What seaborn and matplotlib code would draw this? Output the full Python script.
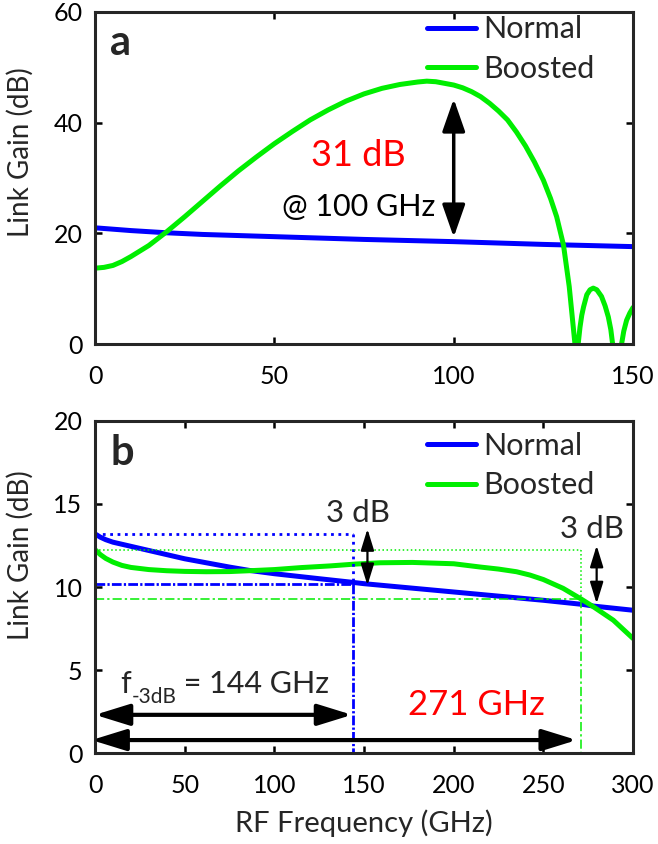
import numpy as np
import pandas as pd
import matplotlib
matplotlib.use("Agg")
import matplotlib.pyplot as plt
import seaborn as sns

sns.set_style("ticks")
plt.rcParams['font.family'] = ['Lato', 'DejaVu Sans']

BLUE = '#0000ff'
GREEN = '#00ee00'
RED = '#ff0000'

# ---------------- data: panel a ----------------
fa_normal = [0, 10, 20, 30, 40, 50, 60, 75, 100, 125, 150]
ga_normal = [21.0, 20.5, 20.1, 19.8, 19.6, 19.4, 19.2, 18.9, 18.5, 18.0, 17.6]

fa_boost = [0, 2.5, 5, 7.5, 10, 15, 20, 25, 30, 35, 40, 45, 50, 55, 60, 65, 70, 75,
            80, 85, 90, 92.5, 95, 100, 102.5, 105, 107.5, 110, 112.5, 115, 117.5,
            120, 122.5, 125, 127, 128.7, 130.6, 132.2, 133.8,
            134.2, 134.7, 135.2, 135.7, 136.2, 137.1, 138.0, 138.9, 139.9, 141.2,
            142.2, 143.1, 143.8, 144.3,
            145.5, 146.8, 147.4, 148.2, 149.1, 150]
ga_boost = [13.7, 13.85, 14.2, 14.9, 15.8, 17.8, 20.3, 23.0, 25.8, 28.6, 31.3, 33.8,
            36.2, 38.4, 40.5, 42.3, 43.9, 45.2, 46.2, 46.9, 47.35, 47.5, 47.4, 46.8,
            46.3, 45.6, 44.7, 43.5, 42.1, 40.5, 38.3, 35.8, 32.9, 29.6, 26.3, 23.0,
            17.9, 10.4, 0.0,
            -40.0, 0.0, 3.0, 5.2, 6.7, 8.9, 9.8, 10.1, 9.8, 8.6, 6.9, 4.9, 2.6, 0.0,
            -40.0, 0.0, 2.3, 4.3, 5.6, 6.6]

# ---------------- data: panel b ----------------
fb_normal = [0, 3, 6, 10, 20, 30, 50, 75, 86, 100, 125, 142, 150, 175, 200, 225,
             250, 272, 278, 300]
gb_normal = [13.2, 13.0, 12.85, 12.7, 12.45, 12.2, 11.7, 11.2, 11.0, 10.8, 10.5,
             10.3, 10.2, 9.95, 9.7, 9.45, 9.2, 8.95, 8.85, 8.6]

fb_boost = [0, 3, 6, 10, 15, 20, 30, 40, 50, 62, 75, 86, 100, 115, 131, 145, 159,
            177, 200, 215, 225, 235, 242.5, 250, 261, 271, 278, 289, 300]
gb_boost = [12.25, 11.95, 11.72, 11.5, 11.3, 11.18, 11.05, 10.98, 10.94, 10.92,
            10.93, 10.98, 11.05, 11.17, 11.27, 11.38, 11.46, 11.48, 11.4, 11.2,
            11.08, 10.92, 10.72, 10.45, 9.92, 9.28, 8.8, 8.0, 6.9]

# -3 dB reference values
normal_top, normal_3db, normal_f3db = 13.2, 10.2, 144
boost_top, boost_3db, boost_f3db = 12.25, 9.25, 271

labels = ['Normal', 'Boosted']

df_a = pd.concat([
    pd.DataFrame({'freq': fa_normal, 'gain': ga_normal, 'series': labels[0]}),
    pd.DataFrame({'freq': fa_boost, 'gain': ga_boost, 'series': labels[1]}),
], ignore_index=True)
df_b = pd.concat([
    pd.DataFrame({'freq': fb_normal, 'gain': gb_normal, 'series': labels[0]}),
    pd.DataFrame({'freq': fb_boost, 'gain': gb_boost, 'series': labels[1]}),
], ignore_index=True)

fig = plt.figure(figsize=(6.58, 8.44), dpi=100)
ax_a = fig.add_axes([0.1444, 0.5924, 0.8177, 0.3934])
ax_b = fig.add_axes([0.1444, 0.1078, 0.8177, 0.3934])

pal = {labels[0]: BLUE, labels[1]: GREEN}
for ax, df in [(ax_a, df_a), (ax_b, df_b)]:
    sns.lineplot(data=df, x='freq', y='gain', hue='series', palette=pal,
                 estimator=None, sort=False, linewidth=3.6, ax=ax)

TICK_FS = 18
LAB_FS = 20
LEG_FS = 22
for ax in (ax_a, ax_b):
    for s in ax.spines.values():
        s.set_linewidth(2.2)
        s.set_visible(True)
    ax.tick_params(direction='in', length=5, width=1.8, top=True, right=True,
                   labelsize=TICK_FS, pad=9, colors='black')
    ax.tick_params(axis='x', pad=15)
    ax.set_ylabel('Link Gain (dB)', fontsize=LAB_FS)
    leg = ax.legend(loc='upper left', frameon=False, fontsize=LEG_FS,
                    handlelength=1.6, handletextpad=0.25, labelspacing=0.38,
                    borderpad=0, borderaxespad=0)
    for line in leg.get_lines():
        line.set_linewidth(3.6)

# panel a
ax_a.set_xlim(0, 150)
ax_a.set_ylim(0, 60)
ax_a.set_xticks([0, 50, 100, 150])
ax_a.set_yticks([0, 20, 40, 60])
ax_a.set_xlabel('')
ax_a.yaxis.set_label_coords(-0.113, 0.578)
ax_a.legend_.set_bbox_to_anchor((0.617, 0.99), transform=ax_a.transAxes)
ax_a.text(7.2, 54.4, 'a', fontsize=30, fontweight='bold', ha='center', va='center')
ax_a.text(73.4, 34.0, '31 dB', color=RED, fontsize=26, ha='center', va='center')
ax_a.text(73.4, 24.8, '@ 100 GHz', color='black', fontsize=22, ha='center', va='center')
ax_a.annotate('', xy=(100, 44.3), xytext=(100, 19.3),
              arrowprops=dict(arrowstyle='<|-|>,head_length=2.0,head_width=0.7',
                              mutation_scale=10, color='black', lw=2.5,
                              shrinkA=0, shrinkB=0))

# panel b
ax_b.set_xlim(0, 300)
ax_b.set_ylim(0, 20)
ax_b.set_xticks(np.arange(0, 301, 50))
ax_b.set_yticks([0, 5, 10, 15, 20])
ax_b.set_xlabel('RF Frequency (GHz)', fontsize=21, labelpad=9)
ax_b.yaxis.set_label_coords(-0.113, 0.596)
ax_b.legend_.set_bbox_to_anchor((0.617, 0.968), transform=ax_b.transAxes)

dash_blue = (0, (3.5, 0.8, 0.8, 0.8))
dash_green = (0, (6, 2, 1.5, 2))
# reference lines: Normal
ax_b.plot([0, normal_f3db], [normal_top, normal_top], ls=':', color=BLUE, lw=2.0)
ax_b.plot([normal_f3db, normal_f3db], [normal_top, normal_3db], ls=':', color=BLUE, lw=2.0)
ax_b.plot([0, normal_f3db], [normal_3db, normal_3db], ls=dash_blue, color=BLUE, lw=2.0)
ax_b.plot([normal_f3db, normal_f3db], [normal_3db, 0], ls=dash_blue, color=BLUE, lw=2.0)
# reference lines: Boosted
ax_b.plot([0, boost_f3db], [boost_top, boost_top], ls=':', color=GREEN, lw=1.1)
ax_b.plot([boost_f3db, boost_f3db], [boost_top, boost_3db], ls=':', color=GREEN, lw=1.1)
ax_b.plot([0, boost_f3db], [boost_3db, boost_3db], ls=dash_green, color=GREEN, lw=1.1)
ax_b.plot([boost_f3db, boost_f3db], [boost_3db, 0], ls=dash_green, color=GREEN, lw=1.1)

small = dict(arrowstyle='<|-|>,head_length=1.3,head_width=0.4', mutation_scale=10,
             color='black', lw=1.6, shrinkA=0, shrinkB=0)
big = dict(arrowstyle='<|-|>,head_length=2.1,head_width=0.65', mutation_scale=10,
           color='black', lw=3.0, shrinkA=0, shrinkB=0)
ax_b.annotate('', xy=(151.9, 13.5), xytext=(151.9, 10.1), arrowprops=small)
ax_b.annotate('', xy=(279.7, 12.5), xytext=(279.7, 9.0), arrowprops=small)
ax_b.text(146.9, 14.46, '3 dB', fontsize=22.5, ha='center', va='center')
ax_b.text(276.9, 13.5, '3 dB', fontsize=22.5, ha='center', va='center')
ax_b.annotate('', xy=(143.3, 2.3), xytext=(0, 2.3), arrowprops=big,
              annotation_clip=False)
ax_b.annotate('', xy=(268.6, 0.78), xytext=(-1.9, 0.78), arrowprops=big,
              annotation_clip=False)

# f_-3dB = 144 GHz, built from chained text pieces so the hyphen stays a hyphen
t_f = ax_b.text(13.9, 3.6, 'f', fontsize=22, ha='left', va='baseline')
t_sub = ax_b.annotate('-3dB', xy=(1, 0), xycoords=t_f, xytext=(0.5, -6),
                      textcoords='offset points', fontsize=15, ha='left', va='bottom')
ax_b.annotate(' = 144 GHz', xy=(1, 0), xycoords=t_sub, xytext=(0, 6),
              textcoords='offset points', fontsize=22, ha='left', va='bottom')

ax_b.text(212.4, 2.9, '271 GHz', color=RED, fontsize=25, ha='center', va='center')
ax_b.text(15, 18.07, 'b', fontsize=30, fontweight='bold', ha='center', va='center')

fig.savefig('out.png', dpi=100)
